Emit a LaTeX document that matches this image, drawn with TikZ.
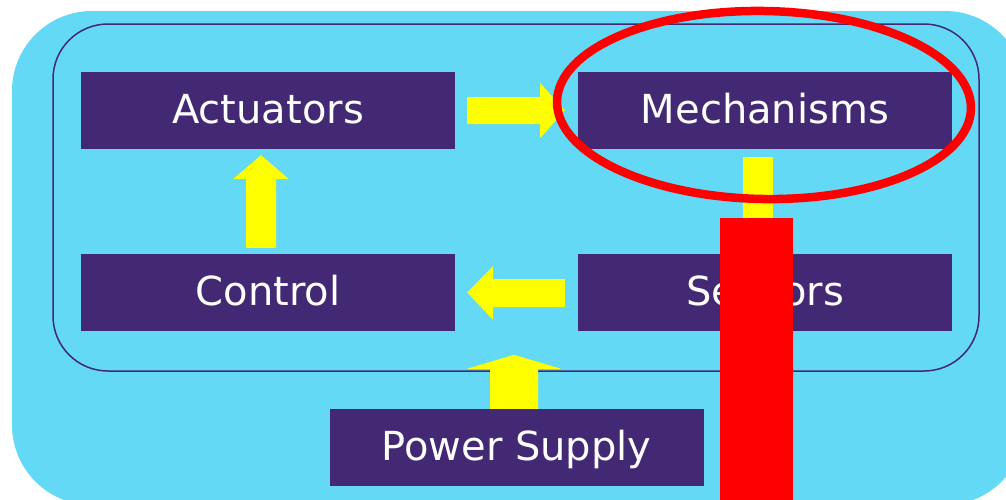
\documentclass[tikz,border=0pt]{standalone}
\usepackage{fontspec}
\setmainfont{DejaVu Sans}
\usetikzlibrary{calc}
\definecolor{bgblue}{HTML}{63D9F5}
\definecolor{boxpurple}{HTML}{432874}
\definecolor{ayellow}{HTML}{FFFF00}
\definecolor{mred}{HTML}{FF0000}
\tikzset{
  blockbox/.style={fill=boxpurple, draw=none, text=white, inner sep=0pt,
    minimum width=374pt, minimum height=77pt, text height=29pt, text depth=4pt,
    font=\fontsize{40}{40}\selectfont},
  arrowfill/.style={fill=ayellow, draw=none},
  frameline/.style={draw=boxpurple, line width=1.5pt, rounded corners=55pt},
  highlight/.style={draw=mred, line width=8.5pt},
  coverbar/.style={fill=mred, draw=none}
}
\begin{document}
\begin{tikzpicture}[x=1pt,y=-1pt]
\useasboundingbox (0,0) rectangle (1006,499);
\begin{scope}
  \clip (0,0) rectangle (1006,499);
  \fill[bgblue, rounded corners=80pt] (12,11) rectangle (1025,505);
\end{scope}
\draw[frameline] (53,24) rectangle (979,371);
% boxes
\node[blockbox] (act)  at (268,110.5) {Actuators};
\node[blockbox] (mech) at (765,110.5) {Mechanisms};
\node[blockbox] (ctrl) at (268,292.5) {Control};
\node[blockbox] (sens) at (765,292.5) {Sensors};
\node[blockbox] (pwr)  at (516.5,447.5) {Power Supply};
% Actuators -> Mechanisms
\fill[arrowfill] ($(act.east)+(12,-13.5)$) -- ($(act.east)+(85,-13.5)$) -- ($(act.east)+(85,-27.5)$)
  -- ($(mech.west)+(-13,0)$) -- ($(act.east)+(85,27.5)$) -- ($(act.east)+(85,13.5)$)
  -- ($(act.east)+(12,13.5)$) -- cycle;
% Sensors -> Control
\fill[arrowfill] ($(sens.west)+(-13,-13.5)$) -- ($(ctrl.east)+(38,-13.5)$) -- ($(ctrl.east)+(38,-26.5)$)
  -- ($(ctrl.east)+(12,0)$) -- ($(ctrl.east)+(38,27.5)$) -- ($(ctrl.east)+(38,14.5)$)
  -- ($(sens.west)+(-13,14.5)$) -- cycle;
% Control -> Actuators
\fill[arrowfill] ($(ctrl.north)+(-22,-6)$) -- ($(act.south)+(-22,30)$) -- ($(act.south)+(-35,30)$)
  -- ($(act.south)+(-7,6)$) -- ($(act.south)+(21,30)$) -- ($(act.south)+(8,30)$)
  -- ($(ctrl.north)+(8,-6)$) -- cycle;
% Power Supply -> frame
\fill[arrowfill] ($(pwr.north)+(-26.5,0)$) -- ($(pwr.north)+(-26.5,-40)$) -- ($(pwr.north)+(-49.5,-40)$)
  -- ($(pwr.north)+(-2.5,-54)$) -- ($(pwr.north)+(44.5,-40)$) -- ($(pwr.north)+(21.5,-40)$)
  -- ($(pwr.north)+(21.5,0)$) -- cycle;
% Mechanisms -> Sensors (partly hidden)
\fill[arrowfill] ($(mech.south)+(-22,8)$) rectangle ($(mech.south)+(8,90)$);
% highlight ellipse
\draw[highlight, rotate around={-1:(764,105)}] (764,105) ellipse [x radius=207pt, y radius=94pt];
% covering red bar
\fill[coverbar] (720,218) rectangle (793,505);
\end{tikzpicture}
\end{document}
